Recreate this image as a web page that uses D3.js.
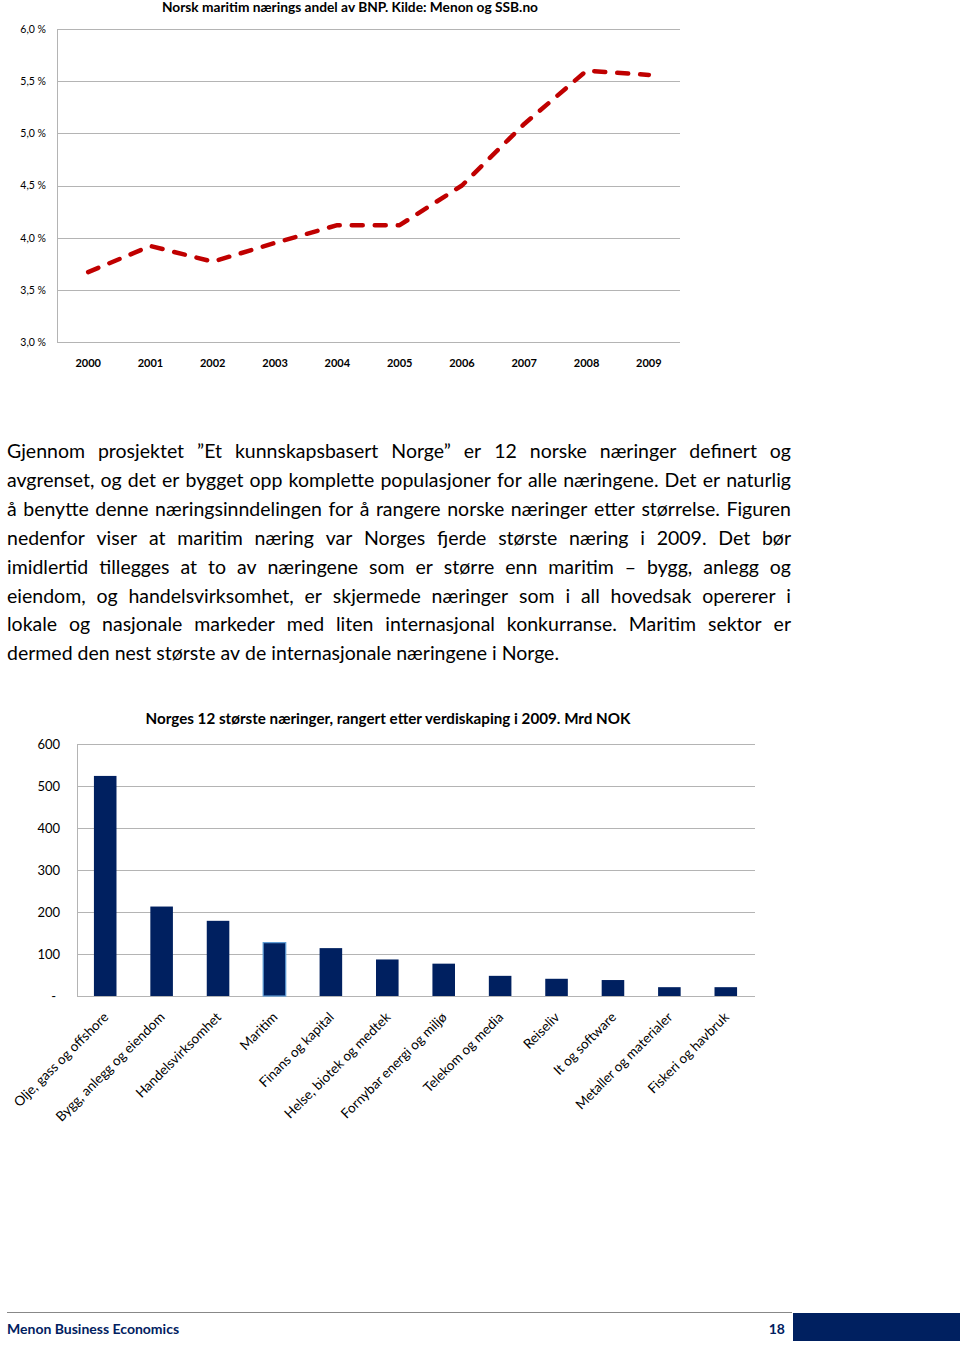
<!DOCTYPE html>
<html><head><meta charset="utf-8">
<script src="https://cdn.jsdelivr.net/npm/d3@7"></script>
<style>
html,body{margin:0;padding:0;background:#fff;}
svg{display:block;font-family:Lato,"Open Sans",sans-serif;}
</style></head>
<body>
<svg id="c" width="960" height="1345"></svg>
<script>
// ---- Data ----
const years = ["2000","2001","2002","2003","2004","2005","2006","2007","2008","2009"];
const maritimeShare = [3.67, 3.92, 3.77, 3.95, 4.12, 4.12, 4.50, 5.09, 5.60, 5.56];
const shareTicks = [3.0, 3.5, 4.0, 4.5, 5.0, 5.5, 6.0];
const shareTickLabels = ["3,0 %","3,5 %","4,0 %","4,5 %","5,0 %","5,5 %","6,0 %"];
const lineTitle = "Norsk maritim nærings andel av BNP. Kilde: Menon og SSB.no";

const industries = ["Olje, gass og offshore","Bygg, anlegg og eiendom","Handelsvirksomhet","Maritim","Finans og kapital","Helse, biotek og medtek","Fornybar energi og miljø","Telekom og media","Reiseliv","It og software","Metaller og materialer","Fiskeri og havbruk"];
const valueAdded = [524, 213, 179, 127, 114, 87, 77, 48, 41, 38, 21, 21];
const valueTicks = [0, 100, 200, 300, 400, 500, 600];
const valueTickLabels = ["-","100","200","300","400","500","600"];
const barTitle = "Norges 12 største næringer, rangert etter verdiskaping i 2009. Mrd NOK";

const paragraph = [
 "Gjennom prosjektet ”Et kunnskapsbasert Norge” er 12 norske næringer definert og",
 "avgrenset, og det er bygget opp komplette populasjoner for alle næringene. Det er naturlig",
 "å benytte denne næringsinndelingen for å rangere norske næringer etter størrelse. Figuren",
 "nedenfor viser at maritim næring var Norges fjerde største næring i 2009. Det bør",
 "imidlertid tillegges at to av næringene som er større enn maritim – bygg, anlegg og",
 "eiendom, og handelsvirksomhet, er skjermede næringer som i all hovedsak opererer i",
 "lokale og nasjonale markeder med liten internasjonal konkurranse. Maritim sektor er",
 "dermed den nest største av de internasjonale næringene i Norge."
];
const footerLeft = "Menon Business Economics";
const footerPage = "18";

// ---- Drawing ----
const svg = d3.select("#c");
const gridColor = "#b4b4b4";

// Line chart
const lx = d3.scaleBand().domain(years).range([57, 680]);
const ly = d3.scaleLinear().domain([3, 6]).range([342, 29]);
const lg = svg.append("g");
lg.selectAll("line.grid").data(shareTicks).join("line")
  .attr("x1", 57).attr("x2", 680)
  .attr("y1", d => Math.round(ly(d)) + 0.5).attr("y2", d => Math.round(ly(d)) + 0.5)
  .attr("stroke", gridColor).attr("stroke-width", 1);
lg.append("line").attr("x1", 57.5).attr("x2", 57.5).attr("y1", ly(6)).attr("y2", ly(3))
  .attr("stroke", gridColor);
const lyAxis = lg.append("g").attr("transform", "translate(46,0)")
  .call(d3.axisLeft(ly).tickValues(shareTicks).tickFormat((d, i) => shareTickLabels[i]).tickSize(0).tickPadding(0));
lyAxis.select(".domain").remove();
lyAxis.selectAll("text").attr("font-size", 10.5).attr("fill", "#000").attr("font-family", "Lato").attr("dy", "0.32em");
const lxAxis = lg.append("g").attr("transform", "translate(0,359)")
  .call(d3.axisBottom(lx).tickSize(0).tickPadding(0));
lxAxis.select(".domain").remove();
lxAxis.selectAll("text").attr("font-size", 11).attr("font-weight", "bold").attr("fill", "#000").attr("font-family", "Lato").attr("dy", "0.71em");
lg.append("path").datum(maritimeShare)
  .attr("d", d3.line().x((d, i) => lx(years[i]) + lx.bandwidth() / 2).y(d => ly(d)))
  .attr("fill", "none").attr("stroke", "#c00000").attr("stroke-width", 4.5)
  .attr("stroke-dasharray", "11,12").attr("stroke-linecap", "round").attr("stroke-linejoin", "round");
lg.append("text").attr("x", 350).attr("y", 12).attr("text-anchor", "middle")
  .attr("font-size", 13).attr("font-weight", "bold").attr("fill", "#000")
  .attr("textLength", 376).attr("lengthAdjust", "spacingAndGlyphs").text(lineTitle);

// Paragraph (justified)
const pg = svg.append("g").attr("font-size", 19.5).attr("fill", "#000");
const pLeft = 7, pRight = 791;
paragraph.forEach((line, li) => {
  const y = 458 + li * 28.9;
  const words = line.split(" ");
  const ts = words.map(w => pg.append("text").attr("y", y).text(w));
  const widths = ts.map(t => t.node().getComputedTextLength());
  const sum = d3.sum(widths);
  const last = li === paragraph.length - 1;
  let gap = last ? 5 : (pRight - pLeft - sum) / (words.length - 1);
  if (!last && gap < 3) {
    gap = 3;
  }
  let x = pLeft;
  ts.forEach((t, i) => { t.attr("x", x); x += widths[i] + gap; });
});

// Bar chart
const bx = d3.scaleBand().domain(industries).range([77, 754]).paddingInner(0.6).paddingOuter(0.3);
const by = d3.scaleLinear().domain([0, 600]).range([996, 744]);
const bg = svg.append("g");
bg.selectAll("line.grid").data(valueTicks).join("line")
  .attr("x1", 77).attr("x2", 755)
  .attr("y1", d => Math.round(by(d)) + 0.5).attr("y2", d => Math.round(by(d)) + 0.5)
  .attr("stroke", gridColor).attr("stroke-width", 1);
bg.append("line").attr("x1", 77.5).attr("x2", 77.5).attr("y1", by(600)).attr("y2", by(0)).attr("stroke", gridColor);
const byAxis = bg.append("g").attr("transform", "translate(60,0)")
  .call(d3.axisLeft(by).tickValues(valueTicks).tickFormat((d, i) => valueTickLabels[i]).tickSize(0).tickPadding(0));
byAxis.select(".domain").remove();
byAxis.selectAll("text").attr("font-size", 13).attr("fill", "#000").attr("font-family", "Lato").attr("dy", "0.32em");
byAxis.selectAll("text").filter(d => d === 0).attr("dx", -4);
bg.selectAll("rect.bar").data(valueAdded).join("rect")
  .attr("x", (d, i) => bx(industries[i])).attr("width", bx.bandwidth())
  .attr("y", d => by(d)).attr("height", d => by(0) - by(d))
  .attr("fill", "#002060")
  .attr("stroke", (d, i) => industries[i] === "Maritim" ? "#5b9bd5" : "none")
  .attr("stroke-width", 1.2);
bg.selectAll("text.xl").data(industries).join("text")
  .attr("transform", d => `translate(${bx(d) + bx.bandwidth() / 2 + 4},1018) rotate(-45)`)
  .attr("text-anchor", "end").attr("font-size", 13.5).attr("fill", "#000").text(d => d);
bg.append("text").attr("x", 388).attr("y", 724).attr("text-anchor", "middle")
  .attr("font-size", 14.5).attr("font-weight", "bold").attr("fill", "#000")
  .attr("textLength", 485).attr("lengthAdjust", "spacingAndGlyphs").text(barTitle);

// Footer
svg.append("line").attr("x1", 7).attr("x2", 792).attr("y1", 1312.5).attr("y2", 1312.5).attr("stroke", "#888").attr("stroke-width", 1);
svg.append("rect").attr("x", 793).attr("y", 1313).attr("width", 167).attr("height", 28).attr("fill", "#002060");
svg.append("text").attr("x", 7).attr("y", 1334).attr("font-size", 14).attr("font-weight", "bold").attr("fill", "#002060").text(footerLeft);
svg.append("text").attr("x", 785).attr("y", 1334).attr("text-anchor", "end").attr("font-size", 14).attr("font-weight", "bold").attr("fill", "#002060").text(footerPage);
</script>
</body></html>
